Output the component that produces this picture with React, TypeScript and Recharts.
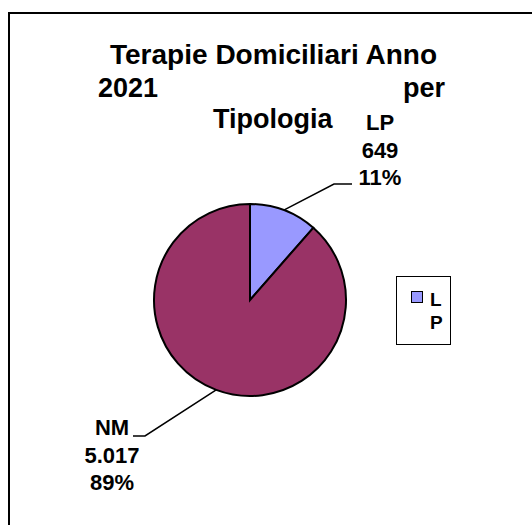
import { PieChart, Pie, Cell, Legend } from "recharts";

const categories = ["LP", "NM"];
const values = [649, 5017];
const colors = ["#9999FF", "#993366"];

const titleLines = ["Terapie Domiciliari Anno", "2021", "per", "Tipologia"];

const chartData = categories.map((name, i) => ({ name, value: values[i] }));

const FONT = "Arial, 'Liberation Sans', sans-serif";
const CX = 250;
const CY = 300;
const RADIUS = 96;

// where Excel put each data label, relative to the pie centre
const labelLayout: Record<string, any> = {
  LP: { elbow: [84, -116], end: [102, -116], textDx: 28, firstDy: -54 },
  NM: { elbow: [-105, 136], end: [-117, 136], textDx: -21, firstDy: -1 },
};

const fmtNumber = (n: number) =>
  String(n).replace(/\B(?=(\d{3})+(?!\d))/g, ".");

const renderLabel = (props: any) => {
  const { cx, cy, midAngle, outerRadius, name, value, percent } = props;
  const lay = labelLayout[name];
  if (!lay) return null;
  const rad = (Math.PI / 180) * midAngle;
  const sx = cx + outerRadius * Math.cos(rad);
  const sy = cy - outerRadius * Math.sin(rad);
  const ex = cx + lay.elbow[0];
  const ey = cy + lay.elbow[1];
  const tx = cx + lay.end[0];
  const ty = cy + lay.end[1];
  const lines = [name, fmtNumber(value), Math.round(percent * 100) + "%"];
  return (
    <g>
      <polyline
        points={`${sx},${sy} ${ex},${ey} ${tx},${ty}`}
        fill="none"
        stroke="#000"
        strokeWidth={1.5}
      />
      {lines.map((t, i) => (
        <text
          key={i}
          x={tx + lay.textDx}
          y={ty + lay.firstDy + i * 27.5}
          textAnchor="middle"
          fontFamily={FONT}
          fontWeight="bold"
          fontSize={22}
          fill="#000"
        >
          {t}
        </text>
      ))}
    </g>
  );
};

const LegendBox = ({ payload }: any) => {
  const item = payload && payload[0];
  if (!item) return null;
  return (
    <div
      style={{
        width: 55,
        height: 69,
        border: "1px solid #000",
        background: "#fff",
        boxSizing: "border-box",
        position: "relative",
        fontFamily: FONT,
        fontWeight: "bold",
        fontSize: 19,
      }}
    >
      <div
        style={{
          position: "absolute",
          left: 14,
          top: 14,
          width: 10,
          height: 10,
          background: item.color,
          border: "1.5px solid #000",
        }}
      />
      <div
        style={{
          position: "absolute",
          left: 33,
          top: 11,
          width: 12,
          lineHeight: "23px",
          wordBreak: "break-all",
        }}
      >
        {item.value}
      </div>
    </div>
  );
};

export default function App() {
  return (
    <div
      style={{
        position: "absolute",
        left: 0,
        top: 0,
        width: 532,
        height: 525,
        background: "#fff",
        overflow: "hidden",
      }}
    >
      <PieChart
        width={532}
        height={525}
        margin={{ top: 0, right: 0, bottom: 0, left: 0 }}
      >
        <Pie
          data={chartData}
          dataKey="value"
          nameKey="name"
          cx={CX}
          cy={CY}
          outerRadius={RADIUS}
          startAngle={90}
          endAngle={-270}
          stroke="#000"
          strokeWidth={2}
          label={renderLabel}
          labelLine={false}
          isAnimationActive={false}
        >
          {chartData.map((d, i) => (
            <Cell key={d.name} fill={colors[i]} />
          ))}
        </Pie>
        <Legend
          content={<LegendBox />}
          layout="vertical"
          verticalAlign="middle"
          align="right"
          wrapperStyle={{ left: 396, top: 276, width: 55 }}
        />
      </PieChart>
      <svg
        width={532}
        height={525}
        style={{ position: "absolute", left: 0, top: 0, pointerEvents: "none" }}
      >
        <rect x={9} y={13} width={700} height={700} fill="none" stroke="#000" strokeWidth={2} />
        <g fontFamily={FONT} fontWeight="bold" fontSize={27} fill="#000">
          <text x={110} y={64} textLength={327} lengthAdjust="spacingAndGlyphs">
            {titleLines[0]}
          </text>
          <text x={98} y={97}>{titleLines[1]}</text>
          <text x={445} y={97} textAnchor="end">{titleLines[2]}</text>
          <text x={213} y={128}>{titleLines[3]}</text>
        </g>
      </svg>
    </div>
  );
}
